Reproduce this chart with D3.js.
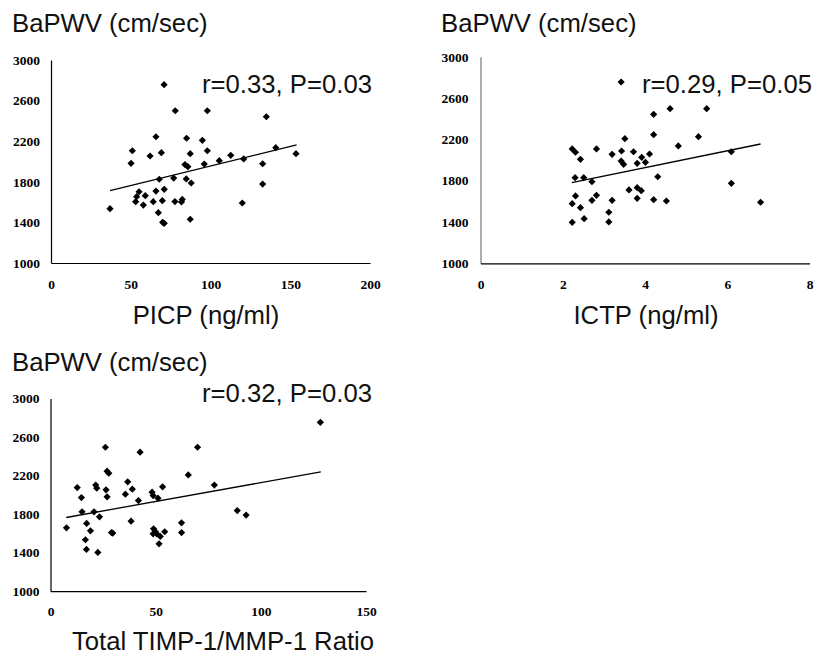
<!DOCTYPE html>
<html><head><meta charset="utf-8">
<script src="https://cdn.jsdelivr.net/npm/d3@7"></script>
<style>body{margin:0;background:#fff}svg{display:block}</style>
</head><body><svg id="c" width="815" height="657"></svg>
<script>
// ---- data ----
const yTicks = [1000, 1400, 1800, 2200, 2600, 3000];
const yTitle = "BaPWV (cm/sec)";

const picpTicks = [0, 50, 100, 150, 200];
const picpX = [37.0,51.0,50.2,55.2,53.7,53.1,59.1,57.9,62.1,65.8,69.2,70.9,65.8,64.1,67.9,71.0,69.8,67.3,70.0,71.0,77.9,76.9,77.7,85.0,87.3,84.0,85.8,84.8,87.9,82.3,81.8,87.3,98.0,94.9,98.0,96.1,105.5,112.7,120.8,135.0,140.9,153.6,132.7,132.7,119.9];
const picpY = [1535,2106,1982,1702,1653,1604,1663,1571,2054,2244,2087,2757,1709,1604,1825,1726,1614,1496,1401,1391,2500,1837,1605,2229,2077,1970,1949,1828,1788,1626,1601,1431,2500,2209,2106,1975,2008,2061,2025,2441,2136,2077,1978,1778,1591];
const picpFitX = [37.0, 154.0];
const picpFitY = [1712, 2163];
const picpStat = "r=0.33, P=0.03";
const picpLabel = "PICP (ng/ml)";

const ictpTicks = [0, 2, 4, 6, 8];
const ictpX = [2.23,2.31,2.43,2.82,3.20,2.30,2.51,2.71,2.31,2.23,2.43,2.52,2.23,2.71,2.82,3.20,3.12,3.12,3.42,4.21,4.61,5.50,3.51,4.21,5.30,4.81,3.43,3.72,4.11,3.92,3.42,3.48,3.81,4.01,4.31,6.10,6.10,6.81,3.61,3.81,3.91,3.81,4.21,4.52];
const ictpY = [2107,2075,2007,2107,2055,1829,1829,1790,1652,1577,1538,1432,1397,1610,1658,1610,1494,1400,2755,2442,2497,2497,2206,2245,2226,2136,2087,2080,2058,2026,1990,1958,1968,1978,1838,2080,1774,1591,1710,1732,1703,1629,1616,1603];
const ictpFitX = [2.22, 6.81];
const ictpFitY = [1780, 2155];
const ictpStat = "r=0.29, P=0.05";
const ictpLabel = "ICTP (ng/ml)";

const ratioTicks = [0, 50, 100, 150];
const ratioX = [7.6,12.7,14.7,15.0,17.2,19.0,16.6,17.1,20.7,21.5,22.0,23.3,22.5,26.1,26.9,27.7,26.4,26.9,29.0,29.6,36.7,35.6,38.9,38.3,41.8,42.6,48.3,48.8,51.1,53.3,49.0,49.8,50.5,48.8,52.2,54.3,51.6,62.3,62.3,65.5,69.9,77.9,88.8,93.0,128.3];
const ratioY = [1658,2076,1972,1824,1703,1627,1534,1433,1824,2101,2069,1772,1402,2494,2246,2225,2052,1979,1609,1603,2135,2007,2059,1727,1941,2443,2028,1993,1966,2083,1648,1620,1596,1596,1568,1617,1492,1710,1609,2207,2494,2101,1837,1790,2753];
const ratioFitX = [7.5, 128.5];
const ratioFitY = [1765, 2238];
const ratioStat = "r=0.32, P=0.03";
const ratioLabel = "Total TIMP-1/MMP-1 Ratio";

// ---- layout ----
const panels = [
  {xs: picpX, ys: picpY, fx: picpFitX, fy: picpFitY, ticks: picpTicks, stat: picpStat, label: picpLabel,
   x0: 51, x1: 370, yTop: 60, yBot: 263, titleX: 12, titleY: 32, statX: 372, statY: 92.7,
   labelX: 206, labelY: 323.5, ypad: 11, xpad: 17, yAxisColor: "#000"},
  {xs: ictpX, ys: ictpY, fx: ictpFitX, fy: ictpFitY, ticks: ictpTicks, stat: ictpStat, label: ictpLabel,
   x0: 480.5, x1: 809.5, yTop: 56.7, yBot: 263.3, titleX: 441, titleY: 32, statX: 812, statY: 92.7,
   labelX: 646, labelY: 323.5, ypad: 12, xpad: 17, yAxisColor: "#777"},
  {xs: ratioX, ys: ratioY, fx: ratioFitX, fy: ratioFitY, ticks: ratioTicks, stat: ratioStat, label: ratioLabel,
   x0: 50.5, x1: 366, yTop: 398.5, yBot: 591.2, titleX: 12, titleY: 371, statX: 372, statY: 401.5,
   labelX: 223, labelY: 650, ypad: 11, xpad: 16, yAxisColor: "#000"}
];

const svg = d3.select("#c");
const sym = d3.symbol().type(d3.symbolSquare).size(26);
const serif = "'Liberation Serif','Times New Roman',serif";
const sans = "'Liberation Sans', Arial, Helvetica, sans-serif";

panels.forEach(p => {
  const x = d3.scaleLinear().domain([p.ticks[0], p.ticks[p.ticks.length-1]]).range([p.x0, p.x1]);
  const y = d3.scaleLinear().domain([1000, 3000]).range([p.yBot, p.yTop]);
  const g = svg.append("g");

  const ya = g.append("g").attr("transform", `translate(${p.x0},0)`)
    .call(d3.axisLeft(y).tickValues(yTicks).tickSize(0).tickPadding(p.ypad).tickFormat(d3.format("d")));
  ya.select(".domain").attr("stroke", p.yAxisColor).attr("stroke-width", 1.2);
  ya.selectAll("text").attr("font-family", serif)
    .attr("font-weight", "bold").attr("font-size", 13.5).attr("fill", "#000");

  const xa = g.append("g").attr("transform", `translate(0,${p.yBot})`)
    .call(d3.axisBottom(x).tickValues(p.ticks).tickSize(0).tickPadding(p.xpad - 1).tickFormat(d3.format("d")));
  xa.select(".domain").attr("stroke", "#000").attr("stroke-width", 1.2);
  xa.selectAll("text").attr("font-family", serif)
    .attr("font-weight", "bold").attr("font-size", 13.5).attr("fill", "#000");

  const pts = p.xs.map((v, i) => [v, p.ys[i]]);
  g.append("g").selectAll("path").data(pts).join("path")
    .attr("d", sym)
    .attr("transform", d => `translate(${x(d[0])},${y(d[1])}) rotate(45)`)
    .attr("fill", "#000");

  const fit = p.fx.map((v, i) => [v, p.fy[i]]);
  g.append("path").datum(fit)
    .attr("d", d3.line().x(d => x(d[0])).y(d => y(d[1])))
    .attr("stroke", "#000").attr("stroke-width", 1.3).attr("fill", "none");

  g.append("text").attr("x", p.titleX).attr("y", p.titleY).text(yTitle)
    .attr("font-family", sans).attr("font-size", 25.7).attr("fill", "#111");
  g.append("text").attr("x", p.statX).attr("y", p.statY).text(p.stat)
    .attr("text-anchor", "end").attr("font-family", sans).attr("font-size", 25.7).attr("fill", "#111");
  g.append("text").attr("x", p.labelX).attr("y", p.labelY).text(p.label)
    .attr("text-anchor", "middle").attr("font-family", sans).attr("font-size", 25.7).attr("fill", "#111");
});
</script></body></html>
